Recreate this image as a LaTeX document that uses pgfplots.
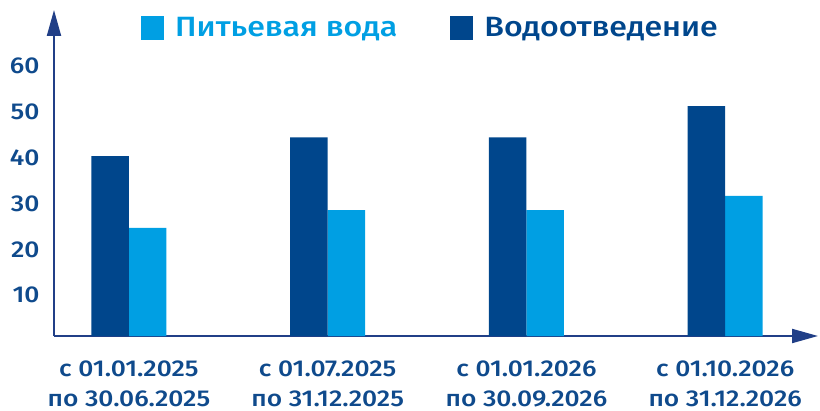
\documentclass[border=0pt]{standalone}
\usepackage{pgfplots}
\pgfplotsset{compat=1.18}
\usetikzlibrary{arrows.meta}
\usepackage{fontspec}
\setmainfont{Fira Sans}[BoldFont={Fira Sans Medium}, FakeStretch=1.15]
\definecolor{darkbar}{HTML}{00468C}
\definecolor{lightbar}{HTML}{009FE3}
\definecolor{txt}{HTML}{0F4A8C}
\definecolor{axiscol}{HTML}{213F87}
\begin{document}
\begin{tikzpicture}
\path (-54bp,-75bp) rectangle (766bp,336bp);
\begin{axis}[
  at={(0,0)}, anchor=south west,
  scale only axis, width=764bp, height=326bp,
  xmin=-0.377, xmax=3.467, ymin=0, ymax=71.2,
  axis lines=left,
  axis line style={draw=axiscol, line width=2bp, -{Triangle[length=26bp,width=14bp]}},
  xtick={0,1,2,3},
  xticklabels={{с 01.01.2025\\по 30.06.2025},{с 01.07.2025\\по 31.12.2025},{с 01.01.2026\\по 30.09.2026},{с 01.10.2026\\по 31.12.2026}},
  ytick={10,20,30,40,50,60},
  major tick length=0pt,
  /pgf/number format/assume math mode=true,
  tick label style={font=\fontsize{23}{30}\selectfont\bfseries, text=txt},
  xticklabel style={align=center, inner sep=0pt, yshift=-25bp},
  yticklabel style={yshift=-5bp, xshift=-11bp},
  legend columns=2,
  legend style={draw=none, fill=none, at={(0.1139,0.945)}, anchor=west,
    font=\fontsize{28}{30}\selectfont\bfseries, inner sep=0pt,
    /tikz/every even column/.append style={column sep=51bp}},
  legend image code/.code={\fill (0bp,-12bp) rectangle (23bp,12bp);},
  clip=false,
]
\addplot[ybar, bar width=37.5bp, bar shift=18.75bp, fill=lightbar, draw=none]
  coordinates {(0,23.6) (1,27.5) (2,27.5) (3,30.6)};
\addlegendentry{\hspace{9bp}\textcolor{lightbar}{Питьевая вода}}
\addplot[ybar, bar width=37.5bp, bar shift=-18.75bp, fill=darkbar, draw=none]
  coordinates {(0,39.3) (1,43.4) (2,43.4) (3,50.2)};
\addlegendentry{\hspace{9bp}\textcolor{darkbar}{Водоотведение}}
\end{axis}
\end{tikzpicture}
\end{document}
